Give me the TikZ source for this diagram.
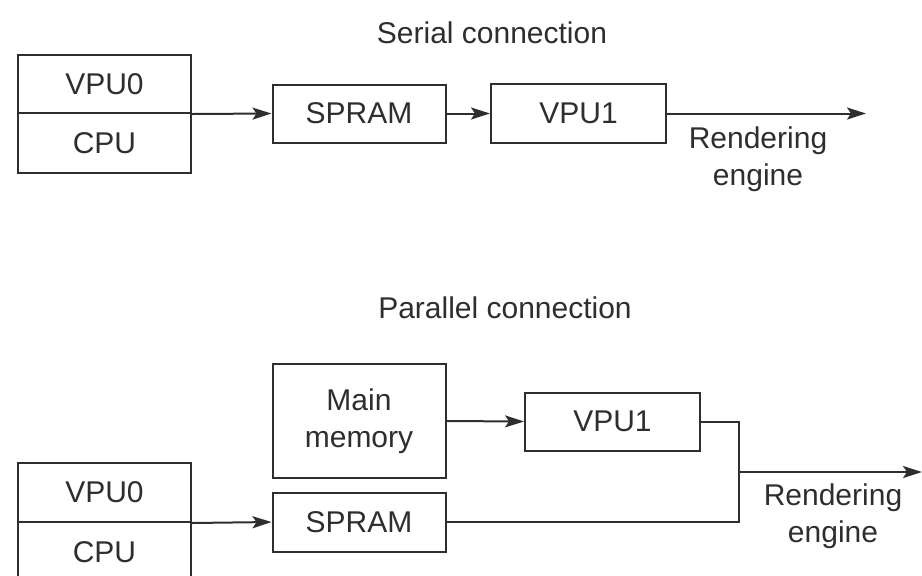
\documentclass[tikz,border=0pt]{standalone}
\usepackage{fontspec}
\setmainfont{Liberation Sans}
\usepackage{tikz}
\usetikzlibrary{arrows.meta}
\definecolor{ink}{HTML}{2E2E2E}

\begin{document}
\begin{tikzpicture}[x=0.5pt,y=-0.5pt,
    font=\fontsize{15}{18.5}\selectfont, text=ink,
    box/.style={draw=ink,line width=1pt,inner sep=0pt,minimum width=86.5pt,align=center},
    wire/.style={draw=ink,line width=1pt},
    arr/.style={wire,-{Stealth[length=9.5pt,width=6pt,inset=2pt]}}]
            \useasboundingbox (0,0) rectangle (922,575);

            % serial
            \node (serial) at (492,33) {Serial connection};
            \node[box,minimum height=29pt] (vpuA) at (104.5,84) {VPU0};
            \node[box,minimum height=30pt] (cpuA) at (104.5,143) {CPU};
            \node[box,minimum height=29pt] (spramA) at (359,113.5) {SPRAM};
            \node[box,minimum height=29.5pt,minimum width=87.5pt] (vpuoneA) at (578.5,113.5) {VPU1};
            \coordinate (outA) at (866,113.5);
            \node[align=center] (rendA) at (758,159) {Rendering\\engine};

            \draw[arr] (vpuA.south east) -- (spramA.west);
            \draw[arr] (spramA.east) -- (vpuoneA.west);
            \draw[arr] (vpuoneA.east) -- (outA);

            % parallel
            \node (parallel) at (505,308) {Parallel connection};
            \node[box,minimum height=29.5pt] (vpuB) at (104.5,492.5) {VPU0};
            \node[box,minimum height=30.5pt] (cpuB) at (104.5,552.5) {CPU};
            \node[box,minimum height=57pt] (memB) at (359,421) {Main\\memory};
            \node[box,minimum height=29.5pt] (spramB) at (359,522) {SPRAM};
            \node[box,minimum height=29pt,minimum width=87.5pt] (vpuoneB) at (612.5,421.5) {VPU1};
            \coordinate (jn) at (739,472);
            \coordinate (outB) at (922,472);
            \node[align=center] (rendB) at (833,516) {Rendering\\engine};

            \draw[arr] (vpuB.south east) -- (spramB.west);
            \draw[arr] (memB.east) -- (vpuoneB.west);
            \draw[wire] (vpuoneB.east) -| (jn) |- (spramB.east);
            \draw[arr] (jn) -- (outB);
\end{tikzpicture}
\end{document}
